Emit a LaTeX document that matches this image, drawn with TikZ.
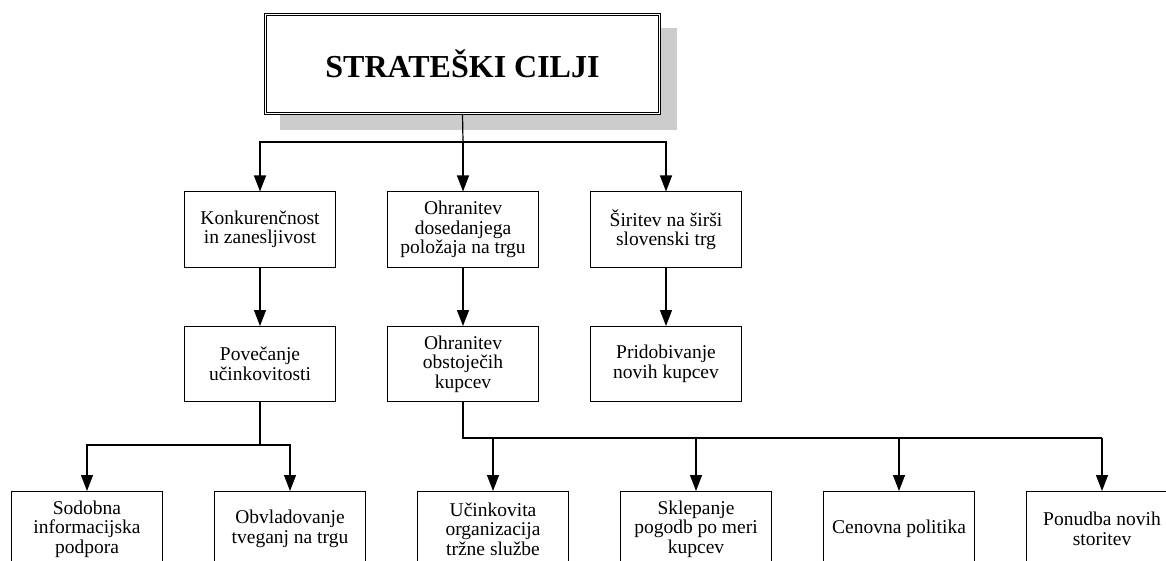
\documentclass[tikz,border=0pt]{standalone}
\usepackage{fontspec}
\setmainfont{Liberation Serif}
\usetikzlibrary{arrows.meta}
\begin{document}
\begin{tikzpicture}[x=1pt,y=-1pt,
  box/.style={draw=black, line width=1pt, minimum width=151pt, minimum height=75pt, inner sep=0pt, align=center, font=\fontsize{19.5}{19.5}\selectfont},
  titlebox/.style={draw=black, double, double distance=1.6pt, line width=0.9pt, minimum width=394pt, minimum height=99pt, inner sep=0pt, font=\bfseries\fontsize{32}{32}\selectfont},
  shadowbox/.style={fill=black!20},
  conn/.style={line width=1.2pt},
  arr/.style={conn, -{Triangle[length=16pt,width=12pt]}},
  thickconn/.style={line width=2pt},
]
\useasboundingbox (0,0) rectangle (1166,561);
\clip (0,0) rectangle (1166,561);

% shadow and title
\fill[shadowbox] (280,28) rectangle (677,130);
\node[titlebox, fill=white] (top) at (462.5,64) {STRATEŠKI CILJI};

% level 1
\node[box] (a1) at (260,229.5) {Konkurenčnost\\in zanesljivost};
\node[box] (a2) at (463,229.5) {Ohranitev\\dosedanjega\\položaja na trgu};
\node[box] (a3) at (666,229.5) {Širitev na širši\\slovenski trg};

% level 2
\node[box] (b1) at (260,364) {Povečanje\\učinkovitosti};
\node[box] (b2) at (463,364) {Ohranitev\\obstoječih\\kupcev};
\node[box] (b3) at (666,364) {Pridobivanje\\novih kupcev};

% level 3
\node[box] (c1) at (87,529) {Sodobna\\informacijska\\podpora};
\node[box] (c2) at (290,529) {Obvladovanje\\tveganj na trgu};
\node[box] (c3) at (493,529) {Učinkovita\\organizacija\\tržne službe};
\node[box] (c4) at (696,529) {Sklepanje\\pogodb po meri\\kupcev};
\node[box] (c5) at (899,529) {Cenovna politika};
\node[box] (c6) at (1102,529) {Ponudba novih\\storitev};

% junctions
\coordinate (j0) at (463,142);
\coordinate (j1) at (260,445);
\coordinate (j2) at (463,438);
\coordinate (j2e) at (1102,438);

% connectors top -> level 1
\draw[conn] (top.south) -- (j0);
\draw[conn] (a1.north |- j0) -- (a3.north |- j0);
\draw[arr] (j0) -| (a1.north);
\draw[arr] (j0) -- (a2.north);
\draw[arr] (j0) -| (a3.north);

% level 1 -> level 2
\draw[arr] (a1.south) -- (b1.north);
\draw[arr] (a2.south) -- (b2.north);
\draw[arr] (a3.south) -- (b3.north);

% level 2 -> level 3 (left)
\draw[conn] (b1.south) -- (j1);
\draw[arr] (j1) -| (c1.north);
\draw[arr] (j1) -| (c2.north);

% level 2 -> level 3 (right)
\draw[thickconn] (b2.south) -- (j2) -- (j2e);
\draw[arr] (c3.north |- j2) -- (c3.north);
\draw[arr] (c4.north |- j2) -- (c4.north);
\draw[arr] (c5.north |- j2) -- (c5.north);
\draw[arr] (j2e) -- (c6.north);
\end{tikzpicture}
\end{document}
